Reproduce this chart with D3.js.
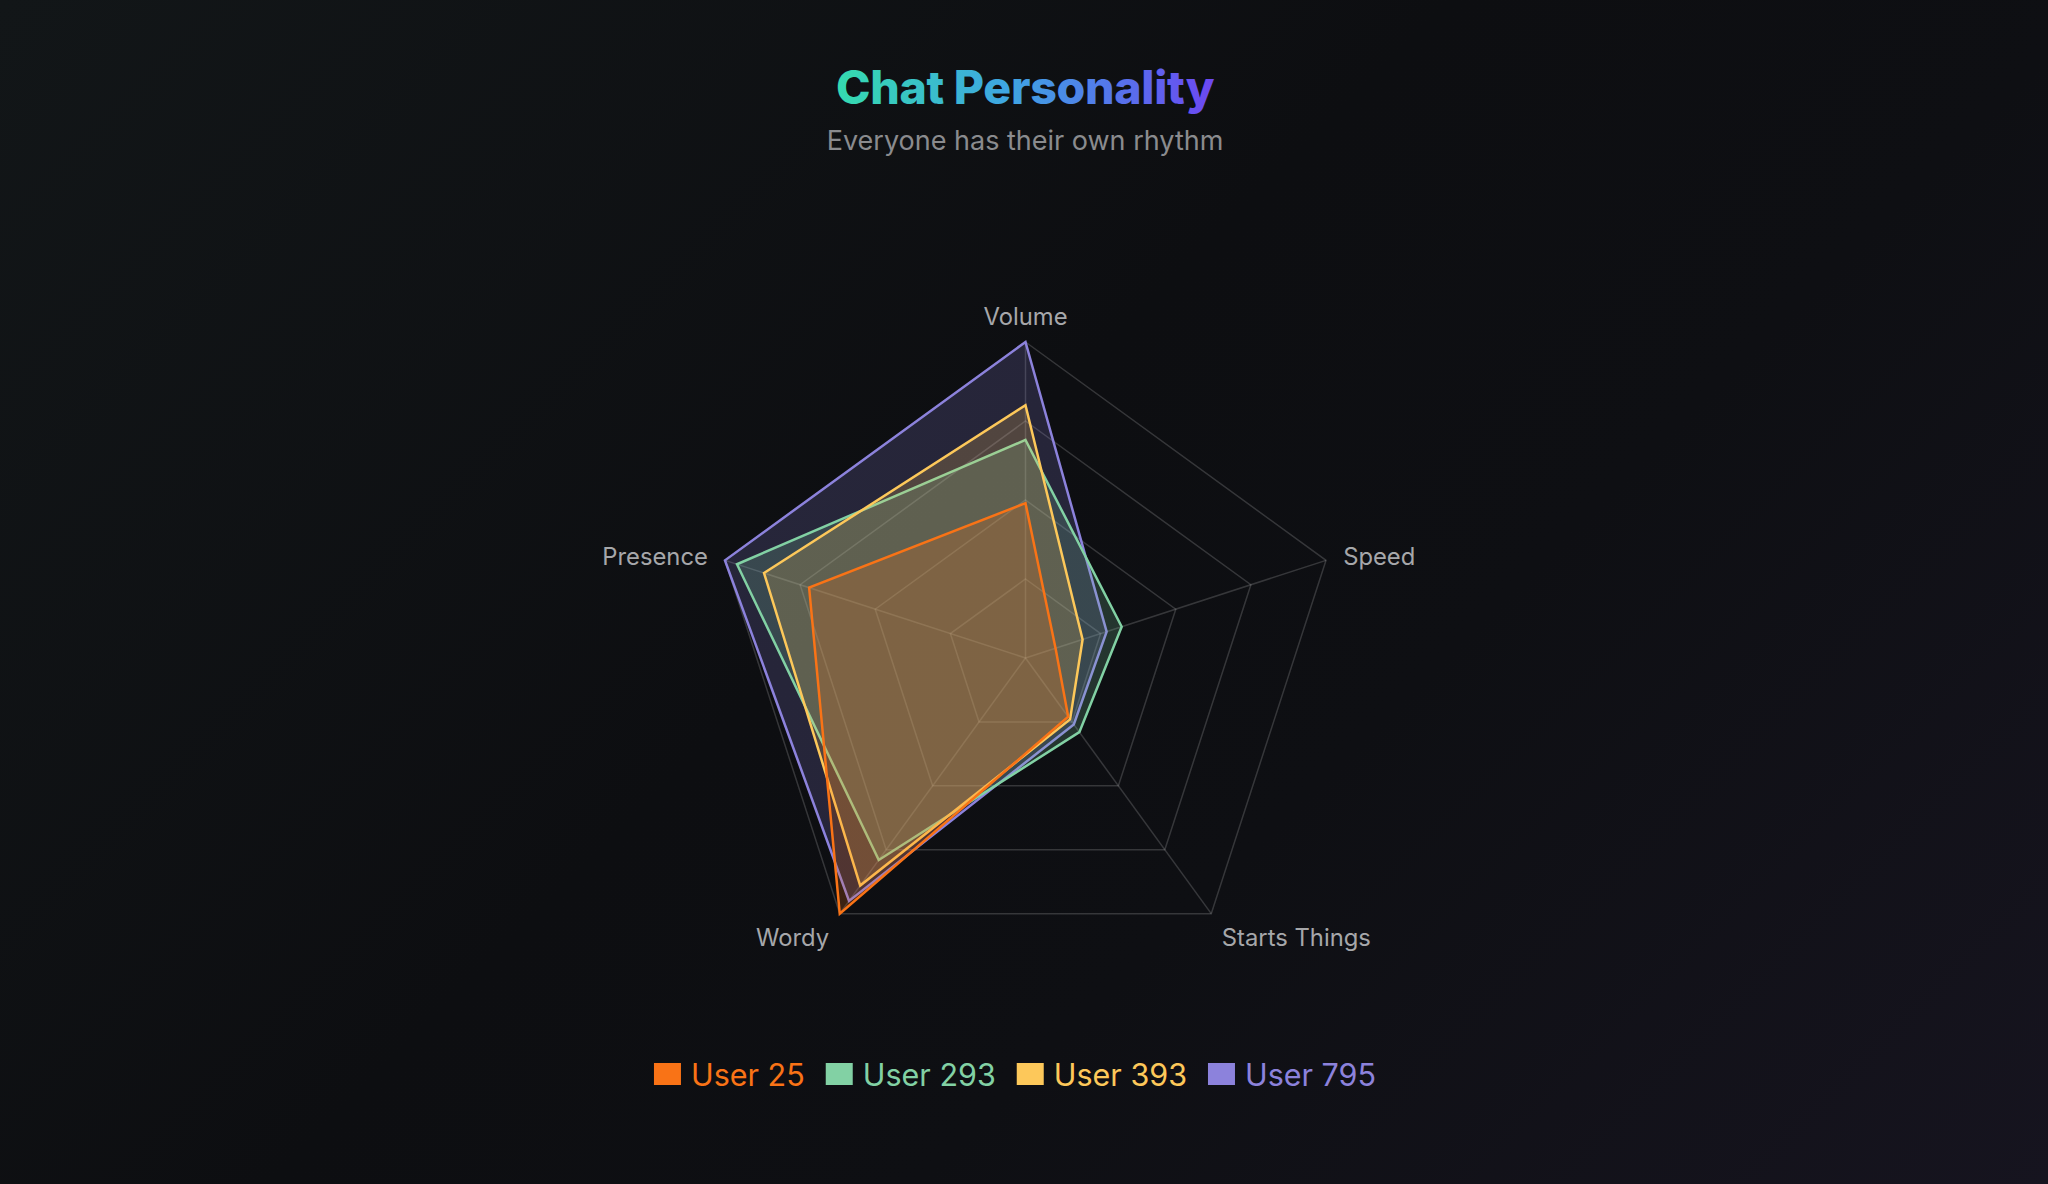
<!DOCTYPE html>
<html>
<head>
<meta charset="utf-8">
<script src="https://cdn.jsdelivr.net/npm/d3@7"></script>
<style>
  html, body { margin: 0; padding: 0; width: 2048px; height: 1184px; overflow: hidden; }
  body { background: linear-gradient(135deg, #121618 0%, #0d0e11 45%, #0e0f13 65%, #16141f 100%); }
  svg { display: block; }
</style>
</head>
<body>
<svg id="chart" width="2048" height="1184"></svg>
<script>
const axes = ["Volume", "Speed", "Starts Things", "Wordy", "Presence"];
const seriesNames = ["User 25", "User 293", "User 393", "User 795"];
const seriesColors = ["#f97316", "#82d1a4", "#fdc85a", "#8c82dc"];
const user25 = [0.49, 0.10, 0.23, 1.00, 0.72];
const user293 = [0.69, 0.32, 0.29, 0.79, 0.96];
const user393 = [0.80, 0.19, 0.24, 0.89, 0.87];
const user795 = [1.00, 0.27, 0.26, 0.95, 1.00];
const ringLevels = [0.25, 0.5, 0.75, 1.0];
const titleText = "Chat Personality";
const subtitleText = "Everyone has their own rhythm";

const seriesValues = [user25, user293, user393, user795];

const svg = d3.select("#chart");
const W = 2048, H = 1184;
const cx = 1025.5, cy = 658, R = 316;

const defs = svg.append("defs");
const tg = defs.append("linearGradient").attr("id", "titleGrad")
  .attr("x1", "0%").attr("x2", "100%").attr("y1", "0%").attr("y2", "0%");
tg.append("stop").attr("offset", "0%").attr("stop-color", "#35dcae");
tg.append("stop").attr("offset", "45%").attr("stop-color", "#3ea6e2");
tg.append("stop").attr("offset", "100%").attr("stop-color", "#6c47f2");

// Title
svg.append("text")
  .attr("x", W / 2 + 1).attr("y", 104)
  .attr("text-anchor", "middle")
  .attr("font-family", "Inter, 'Noto Sans', sans-serif")
  .attr("font-weight", 800)
  .attr("font-size", 46.5)
  .attr("letter-spacing", -0.3)
  .attr("fill", "url(#titleGrad)")
  .text(titleText);

svg.append("text")
  .attr("x", W / 2 + 1).attr("y", 150)
  .attr("text-anchor", "middle")
  .attr("font-family", "Inter, 'Noto Sans', sans-serif")
  .attr("font-size", 27)
  .attr("fill", "#8a8b8e")
  .text(subtitleText);

const r = d3.scaleLinear().domain([0, 1]).range([0, R]);
const angle = d3.scalePoint().domain(axes).range([0, 2 * Math.PI * (axes.length - 1) / axes.length]);

const g = svg.append("g").attr("transform", `translate(${cx},${cy})`);

const radial = d3.lineRadial()
  .angle((d, i) => angle(axes[i]))
  .radius(d => r(d))
  .curve(d3.curveLinearClosed);

// Grid rings
g.selectAll("path.ring")
  .data(ringLevels)
  .join("path")
  .attr("class", "ring")
  .attr("d", lvl => radial(axes.map(() => lvl)))
  .attr("fill", "none")
  .attr("stroke", "rgba(255,255,255,0.17)")
  .attr("stroke-width", 1.5);

// Spokes
g.selectAll("line.spoke")
  .data(axes)
  .join("line")
  .attr("class", "spoke")
  .attr("x1", 0).attr("y1", 0)
  .attr("x2", a => r(1) * Math.sin(angle(a)))
  .attr("y2", a => -r(1) * Math.cos(angle(a)))
  .attr("stroke", "rgba(255,255,255,0.17)")
  .attr("stroke-width", 1.5);

// Series (largest drawn first)
const order = [3, 1, 2, 0];
g.selectAll("path.series")
  .data(order)
  .join("path")
  .attr("class", "series")
  .attr("d", i => radial(seriesValues[i]))
  .attr("fill", i => seriesColors[i])
  .attr("fill-opacity", 0.2)
  .attr("stroke", i => seriesColors[i])
  .attr("stroke-width", 2.5)
  .attr("stroke-linejoin", "miter");

// Axis labels
const labelR = r(1) + 18;
g.selectAll("text.axis-label")
  .data(axes)
  .join("text")
  .attr("class", "axis-label")
  .attr("x", a => labelR * Math.sin(angle(a)))
  .attr("y", a => {
    const c = Math.cos(angle(a));
    const base = -labelR * c;
    return c > 0.9 ? base + 1 : (c < -0.5 ? base - 1 : base + 4);
  })
  .attr("text-anchor", a => {
    const s = Math.sin(angle(a));
    return Math.abs(s) < 0.01 ? "middle" : (s > 0 ? "start" : "end");
  })
  .attr("dominant-baseline", a => {
    const c = Math.cos(angle(a));
    return c > 0.9 ? "auto" : (c < -0.5 ? "hanging" : "middle");
  })
  .attr("font-family", "Inter, 'Noto Sans', sans-serif")
  .attr("font-size", 23.8)
  .attr("fill", "#a6a7aa")
  .text(a => a);

// Legend
const legend = svg.append("g");
const items = legend.selectAll("g.item")
  .data(seriesNames)
  .join("g")
  .attr("class", "item");
items.append("rect")
  .attr("width", 27).attr("height", 22)
  .attr("y", -11)
  .attr("fill", (d, i) => seriesColors[i]);
items.append("text")
  .attr("x", 37)
  .attr("y", 0)
  .attr("dominant-baseline", "central")
  .attr("font-family", "Inter, 'Noto Sans', sans-serif")
  .attr("font-size", 30.5)
  .attr("fill", (d, i) => seriesColors[i])
  .text(d => d);
let widths = [];
items.each(function () { widths.push(this.getBBox().width); });
const gap = 21;
const total = d3.sum(widths) + gap * (widths.length - 1);
let x0 = 1015 - total / 2;
items.attr("transform", (d, i) => {
  const x = x0 + d3.sum(widths.slice(0, i)) + gap * i;
  return `translate(${x},1074)`;
});
</script>
</body>
</html>
